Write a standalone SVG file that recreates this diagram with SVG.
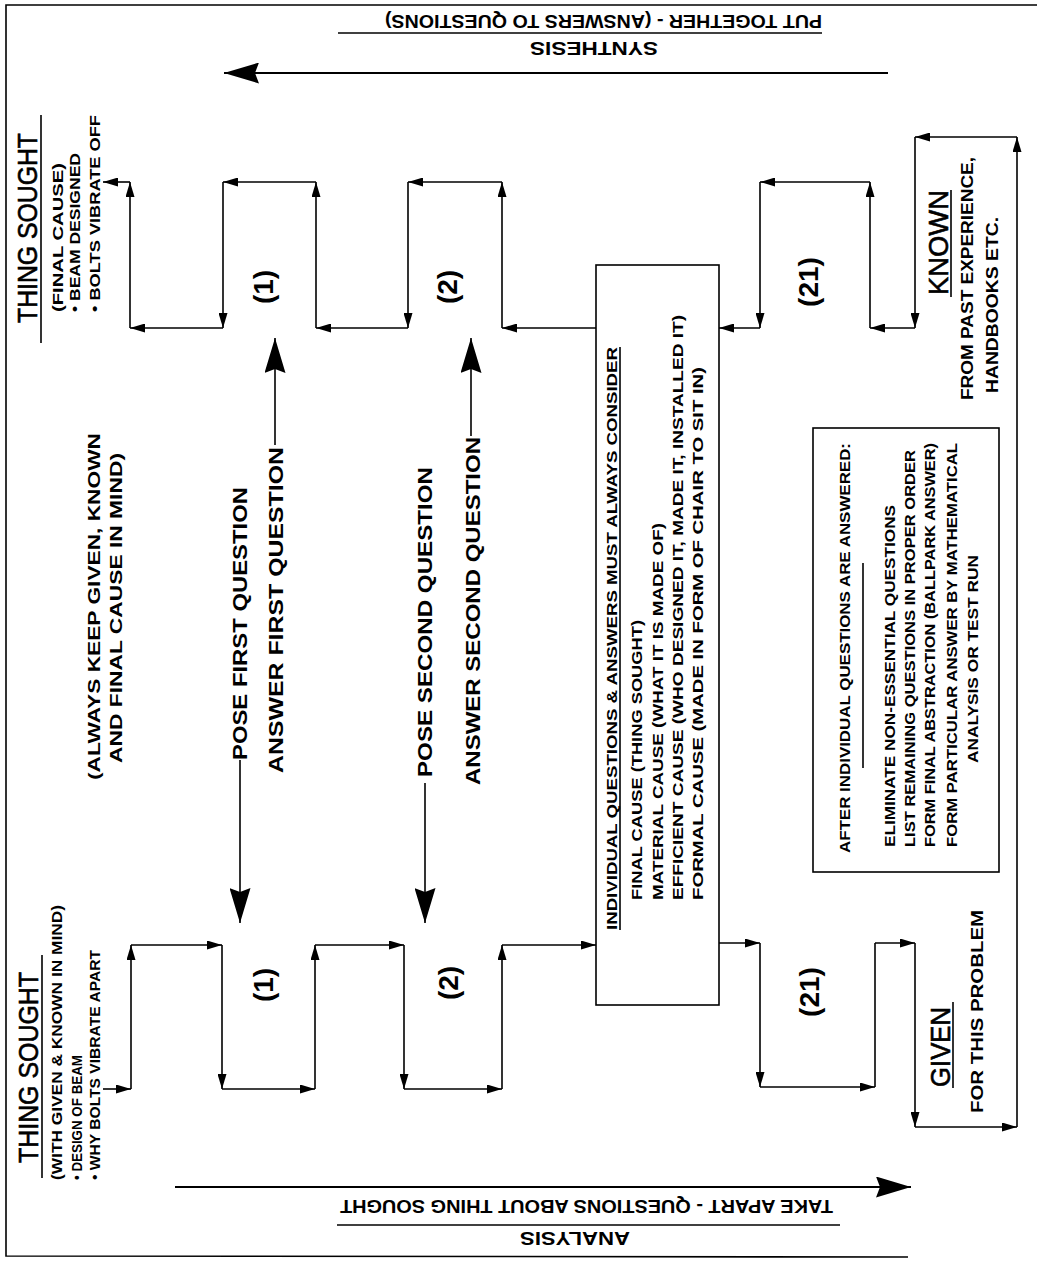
<svg xmlns="http://www.w3.org/2000/svg" width="1037" height="1263" viewBox="0 0 1037 1263">
<style>
.t{font-family:"Liberation Sans",Arial,Helvetica,sans-serif;font-weight:bold;fill:#000}
.big{font-weight:normal;font-size:27px;stroke:#000;stroke-width:0.6}
.num{font-size:28px}
.s14{font-size:14px}
.s15{font-size:15px}
.s16{font-size:16px}
.s17{font-size:17px}
.s18{font-size:18px}
.s20{font-size:20px}
.ln{stroke:#000;stroke-width:1.6;fill:none}
.hv{stroke:#000;stroke-width:2;fill:none}
</style>
<defs>
<marker id="ah" viewBox="0 0 15 9" refX="15" refY="4.5" markerWidth="15" markerHeight="9" markerUnits="userSpaceOnUse" orient="auto"><path d="M0,0 L15,4.5 L0,9 z" fill="#000"/></marker>
<marker id="bh" viewBox="0 0 35 21" refX="35" refY="10.5" markerWidth="35" markerHeight="21" markerUnits="userSpaceOnUse" orient="auto"><path d="M0,0 L35,10.5 L0,21 L4,10.5 z" fill="#000"/></marker>
</defs>
<rect width="1037" height="1263" fill="#fff"/>
<g id="frame">
<polyline class="ln" points="1037,5 6,5 6,1256 908,1257"/>
</g>
<g id="synthesis-header">
<text class="t s18" transform="translate(603.5 15) rotate(180)" text-anchor="middle" textLength="437" lengthAdjust="spacingAndGlyphs">PUT TOGETHER - (ANSWERS TO QUESTIONS)</text>
<line class="ln" x1="338" y1="33" x2="822" y2="33"/>
<text class="t s18" transform="translate(594 42) rotate(180)" text-anchor="middle" textLength="128" lengthAdjust="spacingAndGlyphs">SYNTHESIS</text>
<line class="hv" x1="888" y1="73" x2="224" y2="73" marker-end="url(#bh)"/>
</g>
<g id="analysis-header">
<line class="hv" x1="175" y1="1187" x2="911" y2="1187" marker-end="url(#bh)"/>
<text class="t s18" transform="translate(586.5 1200) rotate(180)" text-anchor="middle" textLength="493" lengthAdjust="spacingAndGlyphs">TAKE APART - QUESTIONS ABOUT THING SOUGHT</text>
<line class="ln" x1="337" y1="1225" x2="840" y2="1225"/>
<text class="t s18" transform="translate(575 1232) rotate(180)" text-anchor="middle" textLength="110" lengthAdjust="spacingAndGlyphs">ANALYSIS</text>
</g>
<g id="thing-sought-final">
<text class="t big" transform="translate(37 323) rotate(-90)" textLength="190" lengthAdjust="spacingAndGlyphs">THING SOUGHT</text>
<line class="ln" x1="41" y1="115" x2="41" y2="343"/>
<text class="t s15" transform="translate(63 312) rotate(-90)" textLength="149" lengthAdjust="spacingAndGlyphs">(FINAL  CAUSE)</text>
<text class="t s14" transform="translate(80 312) rotate(-90)" textLength="159" lengthAdjust="spacingAndGlyphs">• BEAM DESIGNED</text>
<text class="t s14" transform="translate(100 312) rotate(-90)" textLength="197" lengthAdjust="spacingAndGlyphs">• BOLTS VIBRATE OFF</text>
</g>
<g id="thing-sought-given">
<text class="t big" transform="translate(38 1163) rotate(-90)" textLength="191" lengthAdjust="spacingAndGlyphs">THING SOUGHT</text>
<line class="ln" x1="42" y1="955" x2="42" y2="1178"/>
<text class="t s15" transform="translate(62 1180) rotate(-90)" textLength="275" lengthAdjust="spacingAndGlyphs">(WITH GIVEN &amp; KNOWN IN MIND)</text>
<text class="t s14" transform="translate(82 1180) rotate(-90)" textLength="125" lengthAdjust="spacingAndGlyphs">• DESIGN OF BEAM</text>
<text class="t s14" transform="translate(100 1180) rotate(-90)" textLength="230" lengthAdjust="spacingAndGlyphs">• WHY BOLTS VIBRATE APART</text>
</g>
<g id="note-always">
<text class="t s17" transform="translate(100 606.5) rotate(-90)" text-anchor="middle" textLength="347" lengthAdjust="spacingAndGlyphs">(ALWAYS KEEP GIVEN, KNOWN</text>
<text class="t s17" transform="translate(122 608) rotate(-90)" text-anchor="middle" textLength="310" lengthAdjust="spacingAndGlyphs">AND FINAL CAUSE IN MIND)</text>
</g>
<g id="question-1">
<text class="t s20" transform="translate(247 760) rotate(-90)" textLength="273" lengthAdjust="spacingAndGlyphs">POSE FIRST QUESTION</text>
<text class="t s20" transform="translate(283 773) rotate(-90)" textLength="326" lengthAdjust="spacingAndGlyphs">ANSWER FIRST QUESTION</text>
</g>
<g id="question-2">
<text class="t s20" transform="translate(432 777) rotate(-90)" textLength="310" lengthAdjust="spacingAndGlyphs">POSE SECOND QUESTION</text>
<text class="t s20" transform="translate(480 785) rotate(-90)" textLength="348" lengthAdjust="spacingAndGlyphs">ANSWER SECOND QUESTION</text>
</g>
<g id="step-1-synthesis"><text class="t num" transform="translate(273 287) rotate(-90)" text-anchor="middle">(1)</text></g>
<g id="step-2-synthesis"><text class="t num" transform="translate(457 287) rotate(-90)" text-anchor="middle">(2)</text></g>
<g id="step-21-synthesis"><text class="t num" transform="translate(818 282) rotate(-90)" text-anchor="middle">(21)</text></g>
<g id="step-1-analysis"><text class="t num" transform="translate(273 985) rotate(-90)" text-anchor="middle">(1)</text></g>
<g id="step-2-analysis"><text class="t num" transform="translate(458 983) rotate(-90)" text-anchor="middle">(2)</text></g>
<g id="step-21-analysis"><text class="t num" transform="translate(819 992) rotate(-90)" text-anchor="middle">(21)</text></g>
<g id="box-causes">
<rect class="ln" x="596" y="265" width="123" height="740"/>
<text class="t s15" transform="translate(617 930) rotate(-90)" textLength="583" lengthAdjust="spacingAndGlyphs">INDIVIDUAL QUESTIONS &amp; ANSWERS MUST ALWAYS CONSIDER</text>
<line class="ln" x1="620" y1="347" x2="620" y2="930"/>
<text class="t s15" transform="translate(642 900) rotate(-90)" textLength="280" lengthAdjust="spacingAndGlyphs">FINAL CAUSE (THING SOUGHT)</text>
<text class="t s15" transform="translate(663 900) rotate(-90)" textLength="377" lengthAdjust="spacingAndGlyphs">MATERIAL CAUSE (WHAT IT IS MADE OF)</text>
<text class="t s15" transform="translate(683 900) rotate(-90)" textLength="585" lengthAdjust="spacingAndGlyphs">EFFICIENT CAUSE (WHO DESIGNED IT, MADE IT, INSTALLED IT)</text>
<text class="t s15" transform="translate(703 900) rotate(-90)" textLength="533" lengthAdjust="spacingAndGlyphs">FORMAL CAUSE (MADE IN FORM OF CHAIR TO SIT IN)</text>
</g>
<g id="box-after">
<rect class="ln" x="813" y="428" width="186" height="444"/>
<text class="t s15" transform="translate(850 648) rotate(-90)" text-anchor="middle" textLength="410" lengthAdjust="spacingAndGlyphs">AFTER INDIVIDUAL  QUESTIONS ARE ANSWERED:</text>
<line class="ln" x1="863" y1="563" x2="863" y2="768"/>
<text class="t s15" transform="translate(895 847) rotate(-90)" textLength="342" lengthAdjust="spacingAndGlyphs">ELIMINATE NON-ESSENTIAL  QUESTIONS</text>
<text class="t s15" transform="translate(915 847) rotate(-90)" textLength="397" lengthAdjust="spacingAndGlyphs">LIST REMAINING QUESTIONS IN PROPER ORDER</text>
<text class="t s15" transform="translate(935 847) rotate(-90)" textLength="404" lengthAdjust="spacingAndGlyphs">FORM FINAL ABSTRACTION (BALLPARK ANSWER)</text>
<text class="t s15" transform="translate(957 847) rotate(-90)" textLength="404" lengthAdjust="spacingAndGlyphs">FORM PARTICULAR ANSWER BY MATHEMATICAL</text>
<text class="t s15" transform="translate(978 659) rotate(-90)" text-anchor="middle" textLength="208" lengthAdjust="spacingAndGlyphs">ANALYSIS OR TEST RUN</text>
</g>
<g id="known">
<text class="t big" transform="translate(948 295) rotate(-90)" textLength="105" lengthAdjust="spacingAndGlyphs">KNOWN</text>
<line class="ln" x1="951" y1="190" x2="951" y2="297"/>
<text class="t s16" transform="translate(973 400) rotate(-90)" textLength="243" lengthAdjust="spacingAndGlyphs">FROM PAST EXPERIENCE,</text>
<text class="t s16" transform="translate(998 393) rotate(-90)" textLength="176" lengthAdjust="spacingAndGlyphs">HANDBOOKS ETC.</text>
</g>
<g id="given">
<text class="t big" transform="translate(950 1087) rotate(-90)" textLength="80" lengthAdjust="spacingAndGlyphs">GIVEN</text>
<line class="ln" x1="953" y1="1002" x2="953" y2="1088"/>
<text class="t s16" transform="translate(983 1113) rotate(-90)" textLength="203" lengthAdjust="spacingAndGlyphs">FOR THIS PROBLEM</text>
</g>
<g id="connectors">
<line class="ln" x1="130" y1="182" x2="103" y2="182" marker-end="url(#ah)"/>
<line class="ln" x1="130" y1="328" x2="130" y2="182" marker-end="url(#ah)"/>
<line class="ln" x1="223" y1="328" x2="130" y2="328" marker-end="url(#ah)"/>
<line class="ln" x1="223" y1="182" x2="223" y2="328" marker-end="url(#ah)"/>
<line class="ln" x1="316" y1="182" x2="223" y2="182" marker-end="url(#ah)"/>
<line class="ln" x1="316" y1="328" x2="316" y2="182" marker-end="url(#ah)"/>
<line class="ln" x1="408" y1="328" x2="316" y2="328" marker-end="url(#ah)"/>
<line class="ln" x1="408" y1="182" x2="408" y2="328" marker-end="url(#ah)"/>
<line class="ln" x1="502" y1="182" x2="408" y2="182" marker-end="url(#ah)"/>
<line class="ln" x1="502" y1="328" x2="502" y2="182" marker-end="url(#ah)"/>
<line class="ln" x1="596" y1="328" x2="502" y2="328" marker-end="url(#ah)"/>
<line class="ln" x1="760" y1="328" x2="719" y2="328" marker-end="url(#ah)"/>
<line class="ln" x1="760" y1="182" x2="760" y2="328" marker-end="url(#ah)"/>
<line class="ln" x1="870" y1="182" x2="760" y2="182" marker-end="url(#ah)"/>
<line class="ln" x1="870" y1="328" x2="870" y2="182" marker-end="url(#ah)"/>
<line class="ln" x1="915" y1="328" x2="870" y2="328" marker-end="url(#ah)"/>
<line class="ln" x1="915" y1="137" x2="915" y2="328" marker-end="url(#ah)"/>
<line class="ln" x1="1017" y1="137" x2="915" y2="137" marker-end="url(#ah)"/>
<line class="ln" x1="1017" y1="1127" x2="1017" y2="137" marker-end="url(#ah)"/>
<line class="ln" x1="719" y1="943" x2="760" y2="943" marker-end="url(#ah)"/>
<line class="ln" x1="760" y1="943" x2="760" y2="1087" marker-end="url(#ah)"/>
<line class="ln" x1="760" y1="1087" x2="875" y2="1087" marker-end="url(#ah)"/>
<line class="ln" x1="875" y1="1087" x2="875" y2="943"/>
<line class="ln" x1="875" y1="943" x2="915" y2="943" marker-end="url(#ah)"/>
<line class="ln" x1="915" y1="943" x2="915" y2="1127" marker-end="url(#ah)"/>
<line class="ln" x1="915" y1="1127" x2="1017" y2="1127" marker-end="url(#ah)"/>
<line class="ln" x1="103" y1="1089" x2="131" y2="1089" marker-end="url(#ah)"/>
<line class="ln" x1="131" y1="1089" x2="131" y2="945" marker-end="url(#ah)"/>
<line class="ln" x1="131" y1="945" x2="222" y2="945" marker-end="url(#ah)"/>
<line class="ln" x1="222" y1="945" x2="222" y2="1089" marker-end="url(#ah)"/>
<line class="ln" x1="222" y1="1089" x2="315" y2="1089" marker-end="url(#ah)"/>
<line class="ln" x1="315" y1="1089" x2="315" y2="945" marker-end="url(#ah)"/>
<line class="ln" x1="315" y1="945" x2="404" y2="945" marker-end="url(#ah)"/>
<line class="ln" x1="404" y1="945" x2="404" y2="1089" marker-end="url(#ah)"/>
<line class="ln" x1="404" y1="1089" x2="502" y2="1089" marker-end="url(#ah)"/>
<line class="ln" x1="502" y1="1089" x2="502" y2="945" marker-end="url(#ah)"/>
<line class="ln" x1="502" y1="945" x2="596" y2="945" marker-end="url(#ah)"/>
<line class="ln" x1="275" y1="445" x2="275" y2="338" marker-end="url(#bh)"/>
<line class="ln" x1="471" y1="436" x2="471" y2="338" marker-end="url(#bh)"/>
<line class="ln" x1="240" y1="760" x2="240" y2="923" marker-end="url(#bh)"/>
<line class="ln" x1="425" y1="783" x2="425" y2="923" marker-end="url(#bh)"/>
</g>
</svg>
